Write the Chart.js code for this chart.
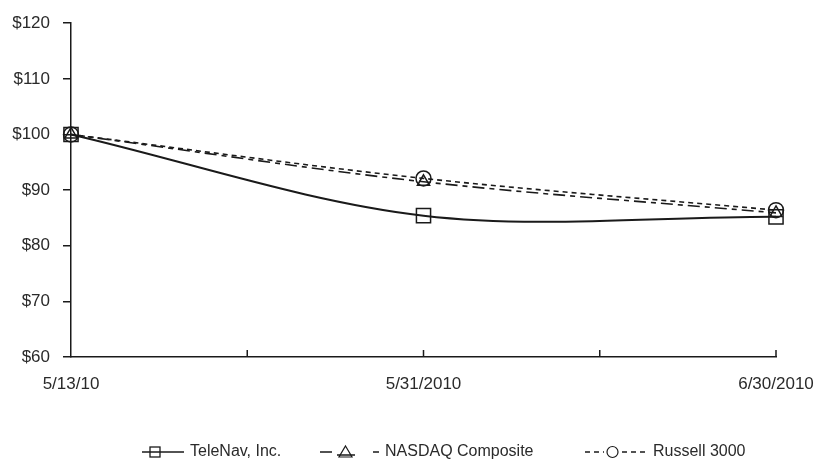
<!DOCTYPE html>
<html>
<head>
<meta charset="utf-8">
<script src="https://cdn.jsdelivr.net/npm/chart.js@4"></script>
<style>
html,body{margin:0;padding:0;background:#fff;}
#wrap{position:relative;width:816px;height:472px;}
</style>
</head>
<body>
<div id="wrap"><canvas id="c" width="816" height="472"></canvas></div>
<script>
const categories = ['5/13/10', '5/31/2010', '6/30/2010'];
const seriesNames = ['TeleNav, Inc.', 'NASDAQ Composite', 'Russell 3000'];
const teleNav = [100, 85.4, 85.2];
const nasdaq = [100, 91.5, 85.9];
const russell = [100, 92.1, 86.4];
const yTicks = [60, 70, 80, 90, 100, 110, 120];

const INK = '#1a1a1a';
const TEXT = '#2a2a2a';
const FONT = "'Liberation Sans', Arial, sans-serif";

const axisTicks = {
  id: 'axisTicks',
  afterDatasetsDraw(chart) {
    const x = chart.scales.x, y = chart.scales.y;
    const ctx = chart.ctx;
    const yb = y.getPixelForValue(yTicks[0]);
    ctx.save();
    ctx.strokeStyle = INK;
    ctx.lineWidth = 1.5;
    ctx.beginPath();
    for (let i = 0; i < categories.length; i++) {
      const px = x.getPixelForValue(i);
      if (i > 0) { ctx.moveTo(px, yb); ctx.lineTo(px, yb - 7); }
      if (i < categories.length - 1) {
        const mid = (px + x.getPixelForValue(i + 1)) / 2;
        ctx.moveTo(mid, yb); ctx.lineTo(mid, yb - 7);
      }
    }
    ctx.stroke();
    ctx.restore();
  }
};

const customLegend = {
  id: 'customLegend',
  afterDraw(chart) {
    const ctx = chart.ctx;
    const ly = 452;
    ctx.save();
    ctx.strokeStyle = INK;
    ctx.fillStyle = TEXT;
    ctx.font = '16px ' + FONT;
    ctx.textBaseline = 'middle';
    ctx.textAlign = 'left';
    // TeleNav
    ctx.lineWidth = 1.5;
    ctx.setLineDash([]);
    ctx.beginPath(); ctx.moveTo(142, ly); ctx.lineTo(184, ly); ctx.stroke();
    ctx.lineWidth = 1.3;
    ctx.strokeRect(150, ly - 5, 10, 10);
    ctx.fillText(chart.data.datasets[0].label, 190, ly);
    // NASDAQ
    ctx.lineWidth = 1.5;
    ctx.beginPath();
    ctx.moveTo(320, ly); ctx.lineTo(332, ly);
    ctx.moveTo(337, ly + 3); ctx.lineTo(355, ly + 3);
    ctx.moveTo(373, ly); ctx.lineTo(379, ly);
    ctx.stroke();
    ctx.lineWidth = 1.2;
    ctx.beginPath();
    ctx.moveTo(345.5, ly - 6); ctx.lineTo(352, ly + 5); ctx.lineTo(339, ly + 5); ctx.closePath();
    ctx.stroke();
    ctx.fillText(chart.data.datasets[1].label, 385, ly);
    // Russell
    ctx.lineWidth = 1.5;
    ctx.setLineDash([5, 4]);
    ctx.beginPath(); ctx.moveTo(585, ly); ctx.lineTo(604, ly); ctx.stroke();
    ctx.beginPath(); ctx.moveTo(622, ly); ctx.lineTo(648, ly); ctx.stroke();
    ctx.setLineDash([]);
    ctx.lineWidth = 1.2;
    ctx.beginPath(); ctx.arc(612.5, ly, 5.5, 0, Math.PI * 2); ctx.stroke();
    ctx.fillText(chart.data.datasets[2].label, 653, ly);
    ctx.restore();
  }
};

const common = {
  borderColor: INK,
  pointBorderColor: INK,
  pointBackgroundColor: 'rgba(0,0,0,0)',
  pointBorderWidth: 1.5,
  tension: 0.33,
  fill: false
};

new Chart(document.getElementById('c'), {
  type: 'line',
  data: {
    labels: categories,
    datasets: [
      Object.assign({}, common, { label: seriesNames[0], data: teleNav, borderWidth: 2, pointStyle: 'rect', pointRadius: 10, order: 3 }),
      Object.assign({}, common, { label: seriesNames[1], data: nasdaq, borderWidth: 1.6, borderDash: [12, 5, 5, 5], pointStyle: 'triangle', pointRadius: 7, order: 2 }),
      Object.assign({}, common, { label: seriesNames[2], data: russell, borderWidth: 1.6, borderDash: [5, 4], pointStyle: 'circle', pointRadius: 7.5, order: 1 })
    ]
  },
  options: {
    responsive: false,
    animation: false,
    devicePixelRatio: 1,
    layout: { padding: { top: 22, right: 40, left: 0, bottom: 0 } },
    plugins: { legend: { display: false }, tooltip: { enabled: false } },
    scales: {
      x: {
        offset: false,
        grid: { display: true, drawOnChartArea: false, drawTicks: false, color: 'rgba(0,0,0,0)' },
        border: { display: true, color: INK, width: 1.5 },
        ticks: { color: TEXT, font: { family: FONT, size: 17 }, padding: 17, maxRotation: 0, autoSkip: false },
        afterFit: s => { s.height = 115; s.paddingLeft = 0; s.paddingRight = 0; }
      },
      y: {
        min: yTicks[0],
        max: yTicks[yTicks.length - 1],
        afterBuildTicks: s => { s.ticks = yTicks.map(v => ({ value: v })); },
        grid: { drawOnChartArea: false, drawTicks: true, tickLength: 8, color: INK, lineWidth: 1.5 },
        border: { display: true, color: INK, width: 1.5 },
        ticks: { color: TEXT, font: { family: FONT, size: 17 }, padding: 13, callback: v => '$' + v },
        afterFit: s => { s.width = 71; }
      }
    }
  },
  plugins: [axisTicks, customLegend]
});
</script>
</body>
</html>
